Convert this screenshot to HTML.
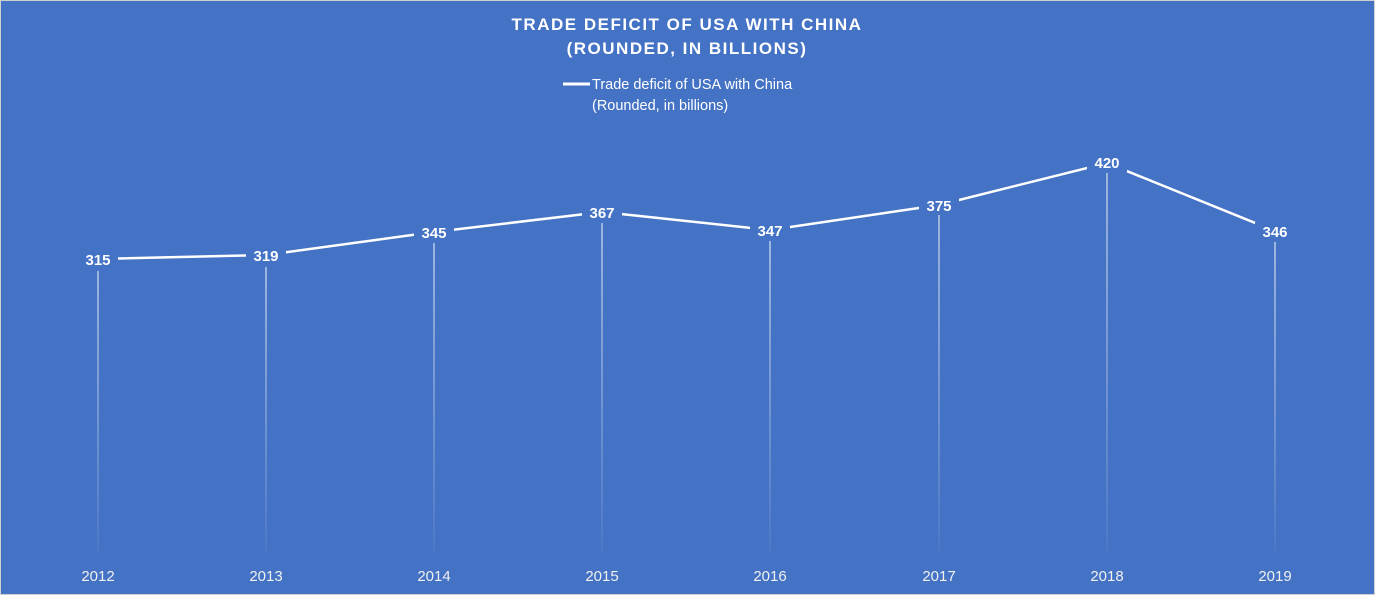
<!DOCTYPE html><html><head><style>body{margin:0}svg{display:block}</style></head><body>
<svg width="1375" height="595" xmlns="http://www.w3.org/2000/svg" font-family="'Liberation Sans',sans-serif">
<defs><linearGradient id="g" x1="0" y1="0" x2="0" y2="1"><stop offset="0" stop-color="#fff" stop-opacity="0.95"/><stop offset="1" stop-color="#fff" stop-opacity="0.1"/></linearGradient></defs>
<rect x="0.5" y="0.5" width="1374" height="594" fill="#4472C4" stroke="#d0d0d0"/>
<text x="687" y="30" text-anchor="middle" fill="#fff" font-size="17" font-weight="bold" letter-spacing="1.5">TRADE DEFICIT OF USA WITH CHINA</text>
<text x="687" y="54" text-anchor="middle" fill="#fff" font-size="17" font-weight="bold" letter-spacing="1.5">(ROUNDED,  IN BILLIONS)</text>
<line x1="563" y1="84" x2="590" y2="84" stroke="#fff" stroke-width="3"/>
<text x="592" y="89" fill="#fff" font-size="14.5">Trade deficit of USA with China</text>
<text x="592" y="110" fill="#fff" font-size="14.5">(Rounded, in billions)</text>
<g>
<rect x="97.5" y="271" width="1" height="280" fill="url(#g)"/>
<rect x="265.5" y="267" width="1" height="284" fill="url(#g)"/>
<rect x="433.5" y="243" width="1" height="308" fill="url(#g)"/>
<rect x="601.5" y="223" width="1" height="328" fill="url(#g)"/>
<rect x="769.5" y="241" width="1" height="310" fill="url(#g)"/>
<rect x="938.5" y="215" width="1" height="336" fill="url(#g)"/>
<rect x="1106.5" y="173" width="1" height="378" fill="url(#g)"/>
<rect x="1274.5" y="242" width="1" height="309" fill="url(#g)"/>
</g>
<polyline fill="none" stroke="#fff" stroke-width="2.5" points="98,259 266,255 434,232 602,212 770,230 939,205 1107,163 1275,231"/>
<g fill="#4472C4">
<rect x="78" y="250" width="40" height="19"/><rect x="246" y="246" width="40" height="19"/><rect x="414" y="223" width="40" height="19"/><rect x="582" y="203" width="40" height="19"/><rect x="750" y="221" width="40" height="19"/><rect x="919" y="196" width="40" height="19"/><rect x="1087" y="153" width="40" height="19"/><rect x="1255" y="222" width="40" height="19"/>
</g>
<g fill="#fff" font-size="15" font-weight="bold" text-anchor="middle">
<text x="98" y="265">315</text><text x="266" y="261">319</text><text x="434" y="238">345</text><text x="602" y="218">367</text><text x="770" y="236">347</text><text x="939" y="211">375</text><text x="1107" y="168">420</text><text x="1275" y="237">346</text>
</g>
<g fill="#f0f0f0" font-size="15" text-anchor="middle">
<text x="98" y="581">2012</text><text x="266" y="581">2013</text><text x="434" y="581">2014</text><text x="602" y="581">2015</text><text x="770" y="581">2016</text><text x="939" y="581">2017</text><text x="1107" y="581">2018</text><text x="1275" y="581">2019</text>
</g>
</svg></body></html>
